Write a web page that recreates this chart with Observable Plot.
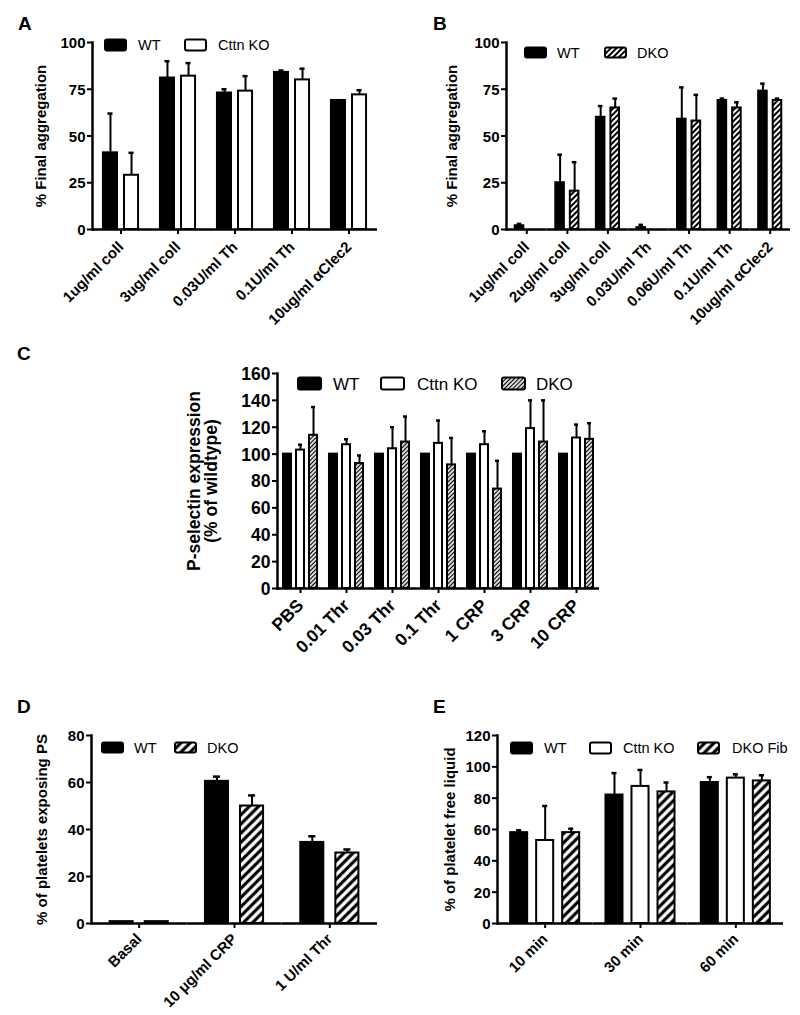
<!DOCTYPE html>
<html><head><meta charset="utf-8">
<script src="https://cdn.jsdelivr.net/npm/d3@7"></script>
<script src="https://cdn.jsdelivr.net/npm/@observablehq/plot@0.6"></script>
<style>
body{margin:0;background:#fff;}
#fig{position:relative;width:800px;height:1015px;overflow:hidden;background:#fff;font-family:"Liberation Sans",Arial,sans-serif;}
#fig > svg{position:absolute;}
</style></head><body><div id="fig"></div>
<script>
// ---------- DATA ----------
// Panel A
const aCategories = ["1ug/ml coll", "3ug/ml coll", "0.03U/ml Th", "0.1U/ml Th", "10ug/ml \u03b1Clec2"];
const aSeries = ["WT", "Cttn KO"];
const aWT = [41, 81, 73, 84, 69];
const aWTErr = [21, 9, 2, 1, 0];
const aKO = [29, 82, 74, 80, 72];
const aKOErr = [12, 7, 8, 6, 2.5];
const aTicks = [0, 25, 50, 75, 100];

// Panel B
const bCategories = ["1ug/ml coll", "2ug/ml coll", "3ug/ml coll", "0.03U/ml Th", "0.06U/ml Th", "0.1U/ml Th", "10ug/ml \u03b1Clec2"];
const bSeries = ["WT", "DKO"];
const bWT = [2, 25, 60, 1, 59, 69, 74];
const bWTErr = [1, 15, 6, 1.5, 17, 1, 4];
const bDKO = [0, 20.5, 65, 0, 58, 65, 69];
const bDKOErr = [0, 15.5, 5, 0, 14, 3, 1];
const bTicks = [0, 25, 50, 75, 100];

// Panel C
const cCategories = ["PBS", "0.01 Thr", "0.03 Thr", "0.1 Thr", "1 CRP", "3 CRP", "10 CRP"];
const cSeries = ["WT", "Cttn KO", "DKO"];
const cWT = [100, 100, 100, 100, 100, 100, 100];
const cWTErr = [0, 0, 0, 0, 0, 0, 0];
const cKO = [103, 107, 104, 108, 107, 119, 112];
const cKOErr = [4, 4, 16, 17, 10, 21, 10];
const cDKO = [114, 93, 109, 92, 74, 109, 111];
const cDKOErr = [21, 6, 19, 20, 21, 31, 12];
const cTicks = [0, 20, 40, 60, 80, 100, 120, 140, 160];

// Panel D
const dCategories = ["Basal", "10 \u03bcg/ml CRP", "1 U/ml Thr"];
const dSeries = ["WT", "DKO"];
const dWT = [0.8, 60.5, 34.5];
const dWTErr = [0, 2, 2.6];
const dDKO = [0.8, 50, 30];
const dDKOErr = [0, 4.5, 1.5];
const dTicks = [0, 20, 40, 60, 80];

// Panel E
const eCategories = ["10 min", "30 min", "60 min"];
const eSeries = ["WT", "Cttn KO", "DKO Fib"];
const eWT = [58, 82, 90];
const eWTErr = [1.5, 14, 3.4];
const eKO = [53, 87.5, 92.8];
const eKOErr = [22, 10.5, 2.4];
const eDKO = [58, 84, 91];
const eDKOErr = [2.5, 6, 3.6];
const eTicks = [0, 20, 40, 60, 80, 100, 120];

// ---------- RENDER ----------
const FONT = '"Liberation Sans", Arial, Helvetica, sans-serif';
const fig = document.getElementById("fig");

function makePanel(o) {
  const rows = [];
  o.cats.forEach((c, i) => o.series.forEach((s, j) =>
    rows.push({cat: c, s, v: o.values[j][i], e: o.errs[j][i], f: o.fills[j]})));
  const errRows = rows.filter(d => d.e > 0);
  const svg = Plot.plot({
    width: o.width, height: o.height,
    marginLeft: o.ml, marginRight: o.mr, marginTop: o.mt, marginBottom: o.mb,
    style: {fontFamily: FONT, fontSize: o.fs + "px", fontWeight: "bold", color: "black", background: "transparent", overflow: "visible"},
    fx: {domain: o.cats, padding: 0, round: false},
    x: {domain: o.series, paddingInner: o.pi, paddingOuter: o.po, round: false, axis: null},
    y: {domain: o.yDomain},
    color: {type: "identity"},
    marks: [
      Plot.barY(rows, {fx: "cat", x: "s", y: "v", fill: "f", stroke: "black", strokeWidth: 2}),
      Plot.ruleX(errRows, {fx: "cat", x: "s", y1: "v", y2: d => d.v + d.e, stroke: "black", strokeWidth: 2}),
      Plot.tickY(errRows, {fx: "cat", x: "s", y: d => d.v + d.e, stroke: "black", strokeWidth: 2.5, insetLeft: o.cap, insetRight: o.cap}),
      Plot.ruleY([0], {stroke: "black", strokeWidth: 2.5}),
      Plot.frame({anchor: "left", facetAnchor: "left", stroke: "black", strokeWidth: 2.5}),
      Plot.axisY({ticks: o.yTicks, tickFormat: d => String(d), tickSize: 5, tickPadding: 2, strokeWidth: 2,
        label: o.ylabel, labelAnchor: "center", labelArrow: "none", labelOffset: o.lo, fontSize: o.fs, lineHeight: 1.15}),
      Plot.axisFx({anchor: "bottom", tickSize: 5, tickPadding: o.xpad, tickRotate: -45, label: null, strokeWidth: 2, fontSize: o.fs})
    ]
  });
  svg.style.left = o.left + "px";
  svg.style.top = o.top + "px";
  fig.appendChild(svg);
}

makePanel({cats: aCategories, series: aSeries, values: [aWT, aKO], errs: [aWTErr, aKOErr],
  fills: ["black", "white"], yDomain: [0, 100], yTicks: aTicks, ylabel: "% Final aggregation",
  left: 0, top: 0, width: 400, height: 340, ml: 92, mr: 23, mt: 42, mb: 111, fs: 15,
  pi: 0.333, po: 0.52, cap: 4.5, lo: 57, xpad: 10});

makePanel({cats: bCategories, series: bSeries, values: [bWT, bDKO], errs: [bWTErr, bDKOErr],
  fills: ["black", "url(#hatchB)"], yDomain: [0, 100], yTicks: bTicks, ylabel: "% Final aggregation",
  left: 400, top: 0, width: 400, height: 340, ml: 106, mr: 10, mt: 42, mb: 111, fs: 15,
  pi: 0.41, po: 0.6, cap: 2, lo: 60, xpad: 10});

makePanel({cats: cCategories, series: cSeries, values: [cWT, cKO, cDKO], errs: [cWTErr, cKOErr, cDKOErr],
  fills: ["black", "white", "url(#hatchC)"], yDomain: [0, 160], yTicks: cTicks,
  ylabel: "P-selectin expression\n(% of wildtype)",
  left: 0, top: 340, width: 800, height: 340, ml: 277, mr: 201, mt: 33, mb: 92, fs: 17.5,
  pi: 0.385, po: 0.46, cap: 2, lo: 90, xpad: 9});

makePanel({cats: dCategories, series: dSeries, values: [dWT, dDKO], errs: [dWTErr, dDKOErr],
  fills: ["black", "url(#hatchBold)"], yDomain: [0, 80], yTicks: dTicks, ylabel: "% of platelets exposing PS",
  left: 0, top: 680, width: 400, height: 335, ml: 91, mr: 23, mt: 55, mb: 92, fs: 15,
  pi: 0.343, po: 0.53, cap: 8, lo: 55, xpad: 8});

makePanel({cats: eCategories, series: eSeries, values: [eWT, eKO, eDKO], errs: [eWTErr, eKOErr, eDKOErr],
  fills: ["black", "white", "url(#hatchBold)"], yDomain: [0, 120], yTicks: eTicks, ylabel: "% of platelet free liquid",
  left: 400, top: 680, width: 400, height: 335, ml: 97, mr: 17, mt: 55, mb: 92, fs: 15,
  pi: 0.346, po: 0.505, cap: 6, lo: 53, xpad: 8});

// ---------- OVERLAY: patterns, panel letters, legends ----------
const ov = d3.create("svg").attr("width", 800).attr("height", 1015)
  .style("left", "0px").style("top", "0px").style("pointer-events", "none")
  .style("font-family", FONT);
const defs = ov.append("defs");
function hatch(id, w, lw) {
  const p = defs.append("pattern").attr("id", id).attr("patternUnits", "userSpaceOnUse")
    .attr("width", w).attr("height", w).attr("patternTransform", "rotate(45)");
  p.append("rect").attr("width", w).attr("height", w).attr("fill", "white");
  p.append("line").attr("x1", w / 2).attr("x2", w / 2).attr("y1", -1).attr("y2", w + 1)
    .attr("stroke", "black").attr("stroke-width", lw);
}
hatch("hatchB", 4, 2);
hatch("hatchC", 3, 1.3);
hatch("hatchBold", 6.5, 3.2);

const letters = [["A", 18, 30], ["B", 433, 30], ["C", 17, 360], ["D", 17, 713], ["E", 433, 713]];
for (const [t, x, y] of letters) {
  ov.append("text").attr("x", x).attr("y", y).attr("font-size", 19).attr("font-weight", "bold").text(t);
}

function legend(names, fills, swX, txX, cy, w, h, fs) {
  names.forEach((n, i) => {
    ov.append("rect").attr("x", swX[i]).attr("y", cy - h / 2).attr("width", w).attr("height", h)
      .attr("rx", 2).attr("fill", fills[i]).attr("stroke", "black").attr("stroke-width", 2);
    ov.append("text").attr("x", txX[i]).attr("y", cy + fs * 0.36).attr("font-size", fs).text(n);
  });
}
legend(aSeries, ["black", "white"], [105, 185], [138, 218], 45, 21, 11, 14.5);
legend(bSeries, ["black", "url(#hatchB)"], [525, 605], [557, 637], 52.5, 21, 10, 14.5);
legend(cSeries, ["black", "white", "url(#hatchC)"], [298, 381, 502], [333, 417, 536], 383.5, 23, 12, 17);
legend(dSeries, ["black", "url(#hatchBold)"], [102, 175], [134, 207], 747.5, 21, 10, 14.5);
legend(eSeries, ["black", "white", "url(#hatchBold)"], [511, 590, 698], [544, 623, 732], 748, 21, 11, 14.5);

fig.appendChild(ov.node());
</script></body></html>
